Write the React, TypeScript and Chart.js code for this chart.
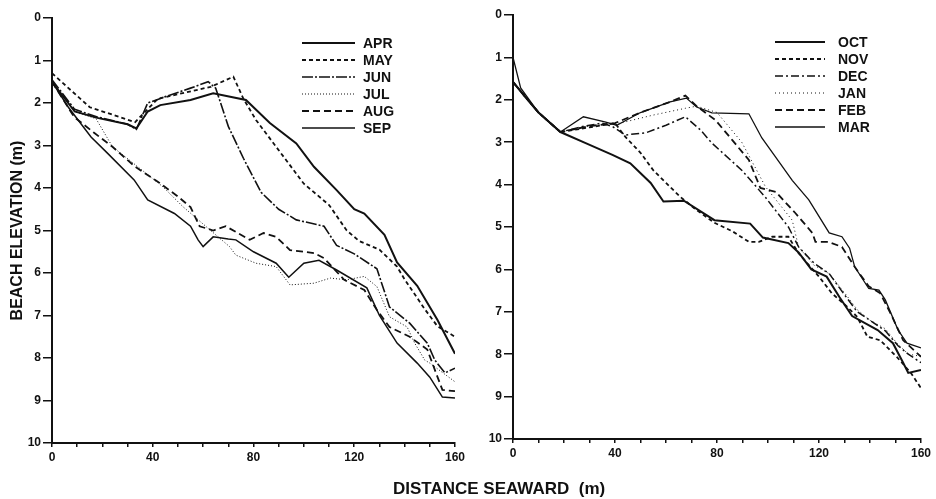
import React, { useEffect, useRef } from 'react';
import Chart from 'chart.js/auto';

const FONT = '"Liberation Sans", Arial, Helvetica, sans-serif';
const INK = '#111111';

// ---- axis ticks ----
const xLabelTicks = [0, 40, 80, 120, 160];
const xMinorStep = 10;
const yTickValues = [0, 1, 2, 3, 4, 5, 6, 7, 8, 9, 10];

// ---- left panel (APR - SEP) ----
const leftLabels = ['APR', 'MAY', 'JUN', 'JUL', 'AUG', 'SEP'];

const aprX = [0, 9, 18, 30, 33.5, 38, 43, 55, 64, 77, 86.5, 97, 104, 113, 120, 124, 132, 137, 145, 153, 160];
const aprY = [1.5, 2.2, 2.35, 2.5, 2.6, 2.2, 2.05, 1.93, 1.77, 1.93, 2.47, 2.95, 3.5, 4.05, 4.5, 4.6, 5.1, 5.75, 6.3, 7.1, 7.9];

const mayX = [0, 15, 33, 42, 63, 72, 76, 81, 100, 110, 117, 122, 130, 137, 140, 148, 153, 160];
const mayY = [1.3, 2.1, 2.45, 1.9, 1.62, 1.38, 1.9, 2.4, 3.9, 4.4, 5.0, 5.25, 5.45, 5.85, 6.15, 6.85, 7.25, 7.5];

const junX = [0, 9, 18, 30, 33.5, 38, 45, 55, 62, 65, 70, 76, 83, 90, 97, 108, 113, 120, 129, 134, 142, 149, 152, 156, 160];
const junY = [1.45, 2.15, 2.33, 2.5, 2.62, 2.0, 1.85, 1.65, 1.5, 1.65, 2.55, 3.3, 4.1, 4.5, 4.75, 4.9, 5.35, 5.55, 5.9, 6.8, 7.18, 7.65, 8.05, 8.35, 8.24];

const julX = [0, 9, 17.5, 24, 33, 44, 52, 63, 70.5, 73, 81, 89, 94.5, 104, 110.5, 117, 124, 129, 134, 141, 144, 148, 150, 160];
const julY = [1.5, 2.2, 2.37, 3.03, 3.45, 3.97, 4.44, 5.0, 5.38, 5.58, 5.77, 5.85, 6.28, 6.24, 6.12, 6.16, 6.08, 6.32, 7.03, 7.27, 7.65, 8.05, 8.12, 8.56];

const augX = [0, 8.8, 16.7, 24, 33, 42, 50, 55, 58.6, 64, 69, 78.5, 84, 89, 94.5, 104, 108, 116, 124, 129, 134, 142, 149, 152, 155, 160];
const augY = [1.5, 2.33, 2.7, 3.03, 3.5, 3.85, 4.2, 4.45, 4.9, 5.0, 4.9, 5.22, 5.06, 5.15, 5.46, 5.53, 5.65, 6.16, 6.4, 6.87, 7.27, 7.5, 7.8, 8.28, 8.75, 8.78];

const sepX = [0, 6.5, 15.5, 22, 32.6, 38, 48.6, 55, 58, 60, 64, 70, 73, 80, 89, 94, 100, 106, 113, 125, 130, 137, 145, 150, 155, 160];
const sepY = [1.5, 2.1, 2.8, 3.18, 3.81, 4.28, 4.6, 4.9, 5.22, 5.38, 5.15, 5.2, 5.22, 5.5, 5.77, 6.1, 5.77, 5.7, 5.93, 6.35, 7.0, 7.65, 8.12, 8.45, 8.92, 8.94];

// ---- right panel (OCT - MAR) ----
const rightLabels = ['OCT', 'NOV', 'DEC', 'JAN', 'FEB', 'MAR'];

const octX = [0, 5, 10, 18.6, 28.5, 39, 46, 54, 59, 67, 79, 93, 98, 108, 112, 117, 123, 128, 133, 143, 149, 153, 155, 160];
const octY = [1.58, 1.95, 2.3, 2.76, 3.02, 3.3, 3.5, 3.96, 4.4, 4.38, 4.84, 4.92, 5.25, 5.38, 5.6, 6.0, 6.17, 6.65, 7.1, 7.43, 7.74, 8.2, 8.44, 8.37];

const novX = [0, 10, 18.6, 30, 40, 44, 50, 55, 60, 65.6, 72, 79, 86, 92.5, 96.4, 101.6, 108, 112, 120, 125, 131, 135, 139, 144, 150.6, 156, 160];
const novY = [1.58, 2.3, 2.76, 2.65, 2.55, 2.87, 3.25, 3.66, 3.96, 4.29, 4.6, 4.9, 5.1, 5.35, 5.35, 5.23, 5.23, 5.62, 6.17, 6.56, 6.88, 7.12, 7.59, 7.67, 8.07, 8.44, 8.8];

const decX = [0, 10, 18.6, 28, 35, 39, 44, 52, 60, 67.6, 73.5, 78, 89.7, 99, 108, 112, 118, 124, 130, 135, 140, 146, 151, 155, 160];
const decY = [1.58, 2.3, 2.76, 2.62, 2.55, 2.63, 2.83, 2.78, 2.6, 2.4, 2.71, 3.02, 3.66, 4.3, 5.0, 5.47, 5.85, 6.1, 6.6, 7.0, 7.2, 7.45, 7.8, 8.0, 8.2];

const janX = [0, 10, 18.6, 30, 42, 55, 67.6, 72, 80, 89.7, 99, 109.5, 112, 118, 124, 130, 135, 140, 146, 150, 155, 160];
const janY = [1.58, 2.3, 2.76, 2.62, 2.55, 2.36, 2.2, 2.15, 2.3, 3.0, 4.05, 4.84, 5.47, 5.9, 6.1, 6.55, 6.95, 7.2, 7.4, 7.7, 8.0, 8.05];

const febX = [0, 10, 18.6, 30, 40, 50, 61.6, 67.6, 72, 79.4, 86, 92.5, 97, 103, 110.7, 117.4, 118.6, 123.7, 129, 134, 139.5, 144, 148, 153, 160];
const febY = [1.58, 2.3, 2.76, 2.62, 2.55, 2.3, 2.05, 1.9, 2.15, 2.48, 2.95, 3.42, 4.08, 4.17, 4.67, 5.14, 5.35, 5.35, 5.47, 5.94, 6.4, 6.56, 7.03, 7.67, 8.06];

const marX = [0, 3, 10, 18.6, 27.6, 36, 40.7, 50, 61.6, 68, 72, 78, 92.5, 97.6, 103, 109.5, 116, 124, 129, 132, 134, 139.5, 143.5, 146, 151, 154.5, 160];
const marY = [1.0, 1.72, 2.3, 2.76, 2.4, 2.52, 2.6, 2.3, 2.05, 1.96, 2.17, 2.31, 2.33, 2.9, 3.35, 3.9, 4.36, 5.14, 5.23, 5.5, 5.94, 6.45, 6.49, 6.72, 7.43, 7.74, 7.85];

// ---- line styles ----
const leftStyles = [
  { dash: [], width: 2 },
  { dash: [4, 3], width: 1.8 },
  { dash: [11, 2, 2, 2], width: 1.6 },
  { dash: [1, 2], width: 1 },
  { dash: [7, 4], width: 1.8 },
  { dash: [], width: 1.5 },
];
const rightStyles = [
  { dash: [], width: 2 },
  { dash: [4, 3], width: 1.8 },
  { dash: [8, 3, 2, 3], width: 1.5 },
  { dash: [1, 3], width: 1 },
  { dash: [7, 4], width: 1.8 },
  { dash: [], width: 1.3 },
];

const W = 468;
const H = 499;

function buildDatasets(labels: string[], xs: number[][], ys: number[][], styles: any[]) {
  return labels.map((label, i) => ({
    label,
    data: xs[i].map((x, j) => ({ x, y: ys[i][j] })),
    borderColor: INK,
    backgroundColor: INK,
    borderWidth: styles[i].width,
    borderDash: styles[i].dash,
    pointRadius: 0,
    tension: 0,
    fill: false,
  }));
}

function makeLegendPlugin(x0: number, x1: number, tx: number, y0: number, dy: number) {
  return {
    id: 'manualLegend',
    afterDraw(chart: any) {
      const ctx = chart.ctx;
      ctx.save();
      chart.data.datasets.forEach((ds: any, i: number) => {
        const y = y0 + i * dy;
        ctx.beginPath();
        ctx.setLineDash(ds.borderDash || []);
        ctx.lineWidth = ds.borderWidth;
        ctx.strokeStyle = ds.borderColor;
        ctx.moveTo(x0, y);
        ctx.lineTo(x1, y);
        ctx.stroke();
        ctx.setLineDash([]);
        ctx.font = `bold 14px ${FONT}`;
        ctx.fillStyle = INK;
        ctx.textBaseline = 'middle';
        ctx.textAlign = 'left';
        ctx.fillText(ds.label, tx, y + 1);
      });
      ctx.restore();
    },
  };
}

type PanelProps = {
  left: number;
  datasets: any[];
  area: { left: number; right: number; top: number; bottom: number };
  legend: { x0: number; x1: number; tx: number; y0: number; dy: number };
  yTitle: boolean;
};

function Panel({ left, datasets, area, legend, yTitle }: PanelProps) {
  const ref = useRef<HTMLCanvasElement | null>(null);
  useEffect(() => {
    if (!ref.current) return;
    const tickFont = { family: FONT, size: 12, weight: 'bold' as const };
    const chart = new Chart(ref.current, {
      type: 'line',
      data: { datasets },
      options: {
        animation: false,
        responsive: false,
        maintainAspectRatio: false,
        layout: { padding: { left: 0, top: area.top, right: W - area.right, bottom: 0 } },
        plugins: { legend: { display: false }, tooltip: { enabled: false }, title: { display: false } },
        scales: {
          x: {
            type: 'linear',
            min: 0,
            max: 160,
            afterFit: (s: any) => {
              s.height = H - area.bottom;
            },
            ticks: {
              stepSize: xMinorStep,
              autoSkip: false,
              maxRotation: 0,
              padding: 3,
              color: INK,
              font: tickFont,
              callback: (v: any) => (xLabelTicks.includes(Number(v)) ? String(v) : ''),
            },
            grid: { drawOnChartArea: false, drawTicks: true, tickLength: 4, color: INK, lineWidth: 1.5 },
            border: { display: true, color: INK, width: 2 },
          },
          y: {
            type: 'linear',
            reverse: true,
            min: 0,
            max: 10,
            afterFit: (s: any) => {
              s.width = area.left;
            },
            afterBuildTicks: (s: any) => {
              s.ticks = yTickValues.map((v) => ({ value: v }));
            },
            ticks: {
              padding: 2,
              color: INK,
              font: tickFont,
              callback: (v: any) => String(v),
            },
            grid: { drawOnChartArea: false, drawTicks: true, tickLength: 9, color: INK, lineWidth: 1.5 },
            border: { display: true, color: INK, width: 2 },
            title: {
              display: yTitle,
              text: 'BEACH ELEVATION (m)',
              color: INK,
              font: { family: FONT, size: 16, weight: 'bold' },
              padding: { top: 8, bottom: 0 },
            },
          },
        },
      },
      plugins: [makeLegendPlugin(legend.x0, legend.x1, legend.tx, legend.y0, legend.dy)],
    } as any);
    return () => chart.destroy();
  }, []);
  return (
    <canvas
      ref={ref}
      width={W}
      height={H}
      style={{ position: 'absolute', left, top: 0, width: W, height: H }}
    />
  );
}

export default function App() {
  const leftData = buildDatasets(
    leftLabels,
    [aprX, mayX, junX, julX, augX, sepX],
    [aprY, mayY, junY, julY, augY, sepY],
    leftStyles
  );
  const rightData = buildDatasets(
    rightLabels,
    [octX, novX, decX, janX, febX, marX],
    [octY, novY, decY, janY, febY, marY],
    rightStyles
  );
  return (
    <div style={{ position: 'absolute', left: 0, top: 0, width: 936, height: 499, background: '#fff', overflow: 'hidden' }}>
      <Panel
        left={0}
        datasets={leftData}
        area={{ left: 52, right: 457, top: 18, bottom: 443 }}
        legend={{ x0: 302, x1: 355, tx: 363, y0: 43, dy: 17 }}
        yTitle={true}
      />
      <Panel
        left={468}
        datasets={rightData}
        area={{ left: 45, right: 453, top: 15, bottom: 439 }}
        legend={{ x0: 307, x1: 357, tx: 370, y0: 42, dy: 17 }}
        yTitle={false}
      />
      <div
        style={{
          position: 'absolute',
          left: 393,
          top: 480,
          fontFamily: FONT,
          fontWeight: 'bold',
          fontSize: 17,
          lineHeight: '17px',
          color: INK,
          whiteSpace: 'pre',
        }}
      >
        {'DISTANCE SEAWARD  (m)'}
      </div>
    </div>
  );
}
